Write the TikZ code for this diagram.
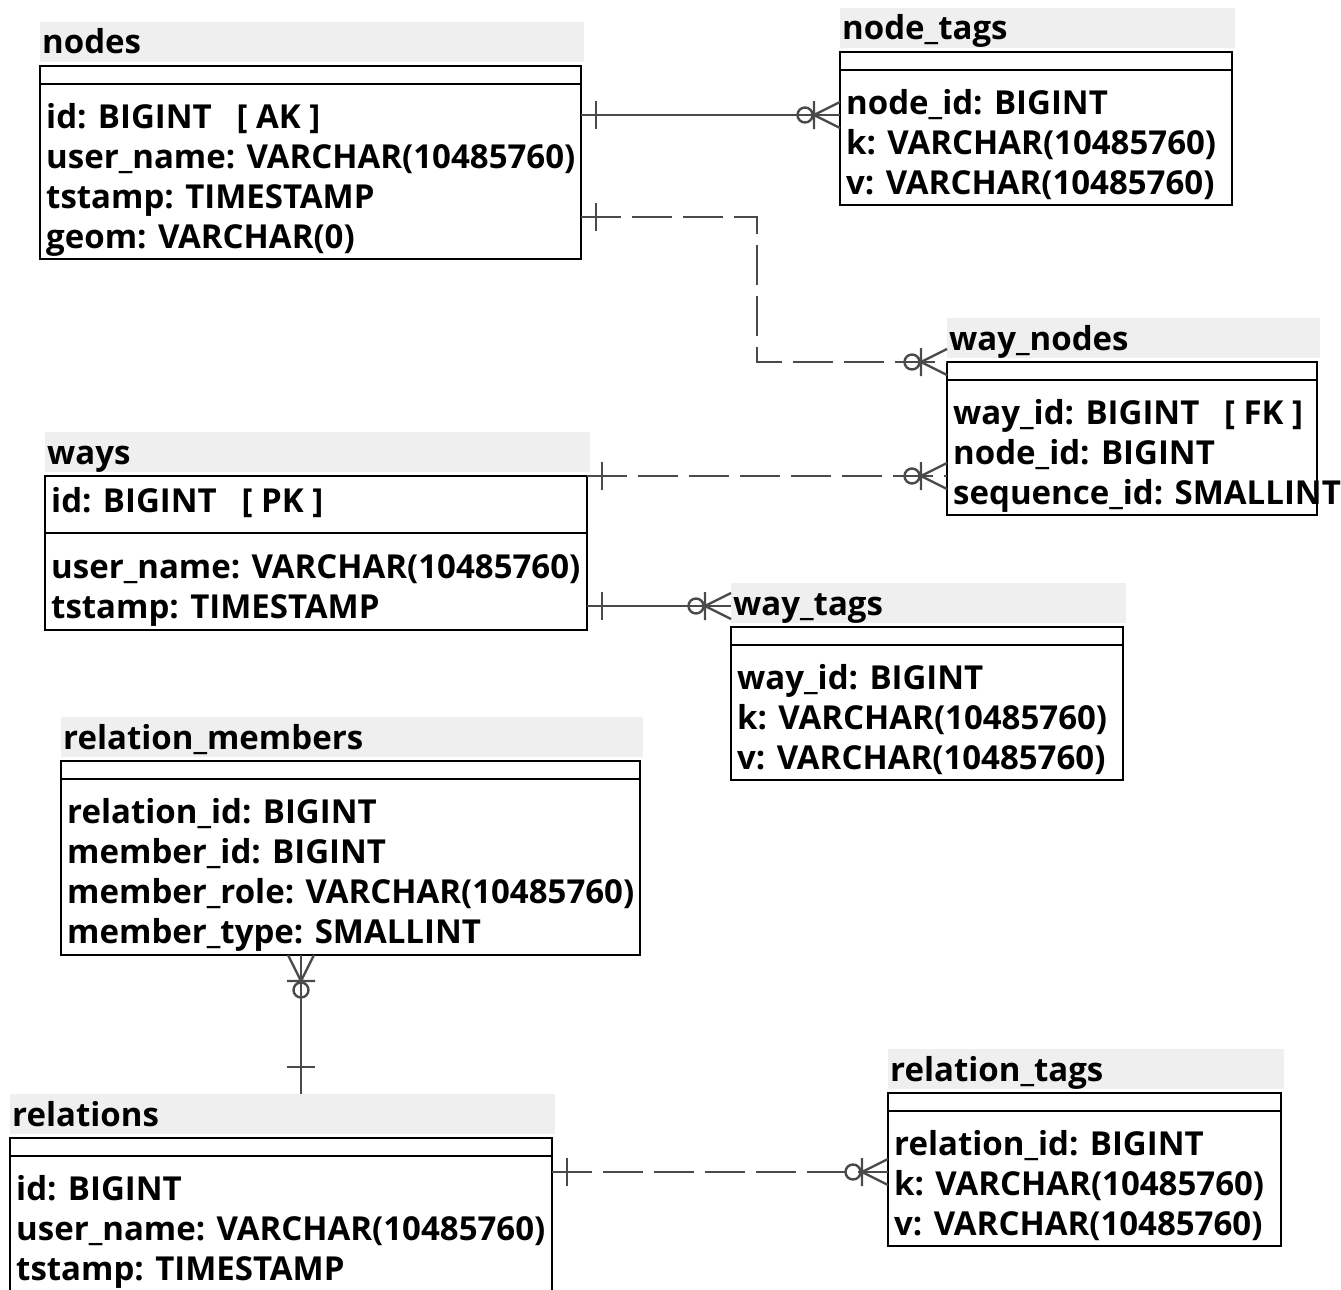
\documentclass[tikz,border=0pt]{standalone}
\usepackage{fontspec}
\setmainfont{Open Sans}
\definecolor{hdrgray}{HTML}{EFEFEF}
\definecolor{linkgray}{HTML}{4A4A4A}
\newcommand\erfieldfont{\fontsize{33}{40}\selectfont\bfseries}
\tikzset{
  hdr/.style={fill=hdrgray, draw=none, anchor=north west, inner sep=0pt, outer sep=0pt, minimum height=40pt},
  tbl/.style={draw=black, line width=2pt, anchor=north west, inner sep=0pt, outer sep=0pt},
  fld/.style={anchor=base west, inner sep=0pt, font=\erfieldfont},
  sepline/.style={draw=black, line width=2pt},
  link/.style={draw=linkgray, line width=2.6pt},
  dashlink/.style={link, dash pattern=on 40pt off 11pt},
  crow/.pic={\draw[linkgray, line width=2.4pt]
      (-26,0) -- (0,-13) (-26,0) -- (0,13) (-26,-14) -- (-26,14)
      (-35,0) circle (7.5pt);},
  one/.pic={\draw[linkgray, line width=2.4pt] (15,-14) -- (15,14);}
}
\begin{document}
\begin{tikzpicture}[x=1pt,y=-1pt]
\useasboundingbox (0,0) rectangle (1341,1290);
\clip (0,0) rectangle (1341,1290);

% ---------- nodes ----------
\node[hdr, minimum width=544pt] (nodes-h) at (40,22) {};
\node[tbl, minimum width=541pt, minimum height=193pt] (nodes) at (40,66) {};
\draw[sepline] ([yshift=-18pt]nodes.north west) -- ([yshift=-18pt]nodes.north east);
\node[fld] (nodes-t) at (42,54) {nodes};
\node[fld] (nodes-1) at (46,128) {id: BIGINT\hspace{0.75em}[ AK ]};
\node[fld] (nodes-2) at (46,168) {user\_name: VARCHAR(10485760)};
\node[fld] (nodes-3) at (46,208) {tstamp: TIMESTAMP};
\node[fld] (nodes-4) at (46,248) {geom: VARCHAR(0)};

% ---------- node_tags ----------
\node[hdr, minimum width=395pt] (ntags-h) at (840,8) {};
\node[tbl, minimum width=392pt, minimum height=153pt] (ntags) at (840,52) {};
\draw[sepline] ([yshift=-18pt]ntags.north west) -- ([yshift=-18pt]ntags.north east);
\node[fld] (ntags-t) at (842,40) {node\_tags};
\node[fld] (ntags-1) at (846,114) {node\_id: BIGINT};
\node[fld] (ntags-2) at (846,154) {k: VARCHAR(10485760)};
\node[fld] (ntags-3) at (846,194) {v: VARCHAR(10485760)};

% ---------- way_nodes ----------
\node[hdr, minimum width=373pt] (wnodes-h) at (947,318) {};
\node[tbl, minimum width=370pt, minimum height=153pt] (wnodes) at (947,362) {};
\draw[sepline] ([yshift=-18pt]wnodes.north west) -- ([yshift=-18pt]wnodes.north east);
\node[fld] (wnodes-t) at (949,350) {way\_nodes};
\node[fld] (wnodes-1) at (953,424) {way\_id: BIGINT\hspace{0.75em}[ FK ]};
\node[fld] (wnodes-2) at (953,464) {node\_id: BIGINT};
\node[fld] (wnodes-3) at (953,504) {sequence\_id: SMALLINT};

% ---------- ways ----------
\node[hdr, minimum width=545pt] (ways-h) at (45,432) {};
\node[tbl, minimum width=542pt, minimum height=154pt] (ways) at (45,476) {};
\draw[sepline] ([yshift=-57pt]ways.north west) -- ([yshift=-57pt]ways.north east);
\node[fld] (ways-t) at (47,464) {ways};
\node[fld] (ways-1) at (51,512) {id: BIGINT\hspace{0.75em}[ PK ]};
\node[fld] (ways-2) at (51,578) {user\_name: VARCHAR(10485760)};
\node[fld] (ways-3) at (51,618) {tstamp: TIMESTAMP};

% ---------- way_tags ----------
\node[hdr, minimum width=395pt] (wtags-h) at (731,583) {};
\node[tbl, minimum width=392pt, minimum height=153pt] (wtags) at (731,627) {};
\draw[sepline] ([yshift=-18pt]wtags.north west) -- ([yshift=-18pt]wtags.north east);
\node[fld] (wtags-t) at (733,615) {way\_tags};
\node[fld] (wtags-1) at (737,689) {way\_id: BIGINT};
\node[fld] (wtags-2) at (737,729) {k: VARCHAR(10485760)};
\node[fld] (wtags-3) at (737,769) {v: VARCHAR(10485760)};

% ---------- relation_members ----------
\node[hdr, minimum width=582pt] (rmem-h) at (61,717) {};
\node[tbl, minimum width=579pt, minimum height=194pt] (rmem) at (61,761) {};
\draw[sepline] ([yshift=-18pt]rmem.north west) -- ([yshift=-18pt]rmem.north east);
\node[fld] (rmem-t) at (63,749) {relation\_members};
\node[fld] (rmem-1) at (67,823) {relation\_id: BIGINT};
\node[fld] (rmem-2) at (67,863) {member\_id: BIGINT};
\node[fld] (rmem-3) at (67,903) {member\_role: VARCHAR(10485760)};
\node[fld] (rmem-4) at (67,943) {member\_type: SMALLINT};

% ---------- relations ----------
\node[hdr, minimum width=545pt] (rel-h) at (10,1094) {};
\node[tbl, minimum width=542pt, minimum height=180pt] (rel) at (10,1138) {};
\draw[sepline] ([yshift=-18pt]rel.north west) -- ([yshift=-18pt]rel.north east);
\node[fld] (rel-t) at (12,1126) {relations};
\node[fld] (rel-1) at (16,1200) {id: BIGINT};
\node[fld] (rel-2) at (16,1240) {user\_name: VARCHAR(10485760)};
\node[fld] (rel-3) at (16,1280) {tstamp: TIMESTAMP};

% ---------- relation_tags ----------
\node[hdr, minimum width=396pt] (rtags-h) at (888,1049) {};
\node[tbl, minimum width=393pt, minimum height=153pt] (rtags) at (888,1093) {};
\draw[sepline] ([yshift=-18pt]rtags.north west) -- ([yshift=-18pt]rtags.north east);
\node[fld] (rtags-t) at (890,1081) {relation\_tags};
\node[fld] (rtags-1) at (894,1155) {relation\_id: BIGINT};
\node[fld] (rtags-2) at (894,1195) {k: VARCHAR(10485760)};
\node[fld] (rtags-3) at (894,1235) {v: VARCHAR(10485760)};

% ---------- connectors ----------
% nodes -> node_tags
\draw[link] (nodes.east |- 0,115) -- (ntags.west |- 0,115);
\pic at (nodes.east |- 0,115) {one};
\pic at (ntags.west |- 0,115) {crow};
% nodes -> way_nodes
\draw[dashlink] (nodes.east |- 0,217) -- ++(176,0) |- (wnodes.north west);
\pic at (nodes.east |- 0,217) {one};
\pic at (wnodes.north west) {crow};
% ways -> way_nodes
\draw[dashlink] (ways.north east) -- (wnodes.west |- ways.north east);
\pic at (ways.north east) {one};
\pic at (wnodes.west |- ways.north east) {crow};
% ways -> way_tags
\draw[link] (ways.east |- 0,606) -- (wtags-h.west |- 0,606);
\pic at (ways.east |- 0,606) {one};
\pic at (wtags-h.west |- 0,606) {crow};
% relation_members -> relations
\draw[link] (rmem.south -| 301,0) -- (rel-h.north -| 301,0);
\pic[rotate=90] at (rmem.south -| 301,0) {crow};
\pic[rotate=90] at ([yshift=12pt]rel-h.north -| 301,0) {one};
% relations -> relation_tags
\draw[dashlink] (rel.east |- 0,1172) -- (rtags.west |- 0,1172);
\pic at (rel.east |- 0,1172) {one};
\pic at (rtags.west |- 0,1172) {crow};
\end{tikzpicture}
\end{document}
